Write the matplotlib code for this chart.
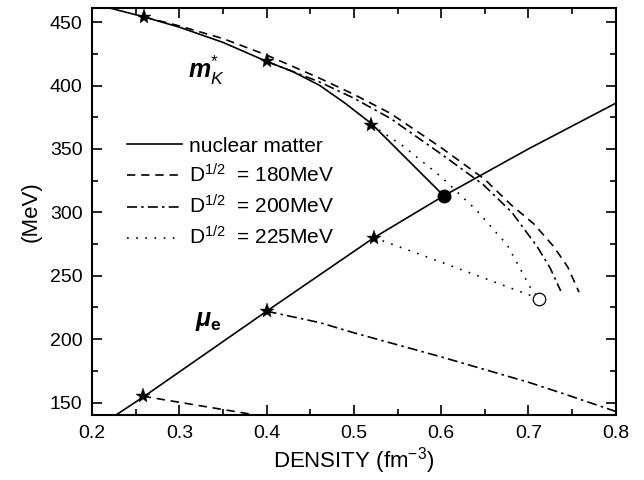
import matplotlib
matplotlib.use("Agg")
import matplotlib.pyplot as plt
from matplotlib.ticker import MultipleLocator

plt.rcParams['font.family'] = ['Liberation Sans', 'DejaVu Sans']
plt.rcParams['mathtext.fontset'] = 'custom'
plt.rcParams['mathtext.rm'] = 'Liberation Sans'
plt.rcParams['mathtext.it'] = 'Liberation Sans:italic'
plt.rcParams['mathtext.bf'] = 'Liberation Sans:bold'
plt.rcParams['mathtext.bfit'] = 'Liberation Sans:italic:bold'

# nuclear matter: effective kaon mass and electron chemical potential
mk_x = [0.221, 0.26, 0.3, 0.35, 0.4, 0.43, 0.461, 0.49, 0.52, 0.603]
mk_y = [461, 454, 446, 434, 419, 411, 400, 386, 370, 313]
mue_x = [0.227, 0.26, 0.4, 0.523, 0.603, 0.7, 0.8]
mue_y = [140, 155, 222, 280, 313, 350, 386]

# D^1/2 = 180 MeV
d180_mk_x = [0.26, 0.3, 0.35, 0.4, 0.46, 0.5, 0.542, 0.6, 0.65, 0.68, 0.706, 0.729, 0.745, 0.758]
d180_mk_y = [454, 447, 437, 424, 406, 393, 378, 351, 326, 306, 291, 273, 257, 237]
d180_mu_x = [0.258, 0.389]
d180_mu_y = [155, 140]

# D^1/2 = 200 MeV
d200_mk_x = [0.4, 0.46, 0.5, 0.542, 0.6, 0.648, 0.681, 0.71, 0.725, 0.737]
d200_mk_y = [419, 403, 390, 374, 346, 322, 300, 273, 256, 238]
d200_mu_x = [0.4, 0.461, 0.5, 0.6, 0.7, 0.74, 0.8]
d200_mu_y = [222, 213, 205, 186, 166, 157, 143]

# D^1/2 = 225 MeV
d225_mk_x = [0.52, 0.557, 0.6, 0.64, 0.676, 0.702, 0.712]
d225_mk_y = [369, 352, 328, 302, 274, 241, 232]
d225_mu_x = [0.523, 0.599, 0.712]
d225_mu_y = [280, 261, 232]

star_x = [0.26, 0.4, 0.52, 0.258, 0.4, 0.523]
star_y = [454, 419, 369, 155, 222, 280]

fig = plt.figure(figsize=(6.44, 4.8), dpi=100)
ax = fig.add_axes([0.143, 0.135, 0.813, 0.848])

lw = 1.2
dash = (0, (5, 3.5))
dashdot = (0, (6, 2.5, 1.5, 2.5))
dot = (0, (1, 4.5))

ax.plot(mk_x, mk_y, color='k', lw=lw, label='nuclear matter')
ax.plot(mue_x, mue_y, color='k', lw=lw)
ax.plot(d180_mk_x, d180_mk_y, color='k', lw=lw, ls=dash, label='D$^{1/2}$  = 180MeV')
ax.plot(d180_mu_x, d180_mu_y, color='k', lw=lw, ls=dash)
ax.plot(d200_mk_x, d200_mk_y, color='k', lw=lw, ls=dashdot, label='D$^{1/2}$  = 200MeV')
ax.plot(d200_mu_x, d200_mu_y, color='k', lw=lw, ls=dashdot)
ax.plot(d225_mk_x, d225_mk_y, color='k', lw=lw, ls=dot, label='D$^{1/2}$  = 225MeV')
ax.plot(d225_mu_x, d225_mu_y, color='k', lw=lw, ls=dot)

ax.plot(star_x, star_y, ls='none', marker='*', ms=11, color='k', mew=0.3)
ax.plot([0.603], [313], ls='none', marker='o', ms=9, color='k')
ax.plot([0.712], [232], ls='none', marker='o', ms=9, mfc='white', mec='k', mew=0.9)

ax.text(0.31, 406, r'$\mathbfit{m}^{*}_{\mathit{K}}$', fontsize=18)
ax.text(0.318, 210, r'$\mathbfit{\mu}_{\mathbf{e}}$', fontsize=18)

ax.set_xlim(0.2, 0.8)
ax.set_ylim(140, 461)
ax.xaxis.set_major_locator(MultipleLocator(0.1))
ax.xaxis.set_minor_locator(MultipleLocator(0.05))
ax.yaxis.set_major_locator(MultipleLocator(50))
ax.yaxis.set_minor_locator(MultipleLocator(25))
ax.tick_params(which='both', direction='in', top=True, right=True, labelsize=14, width=1.2)
ax.tick_params(which='major', length=7, pad=7)
ax.tick_params(which='minor', length=4)
for s in ax.spines.values():
    s.set_linewidth(1.5)

ax.set_xlabel('DENSITY (fm$^{-3}$)', fontsize=16, labelpad=2)
ax.set_ylabel('(MeV)', fontsize=16, labelpad=6)

ax.legend(loc='upper left', bbox_to_anchor=(0.05, 0.705), frameon=False, fontsize=15,
          handlelength=2.65, handletextpad=0.35, labelspacing=0.38, borderaxespad=0)

fig.savefig('out.png', dpi=100)
